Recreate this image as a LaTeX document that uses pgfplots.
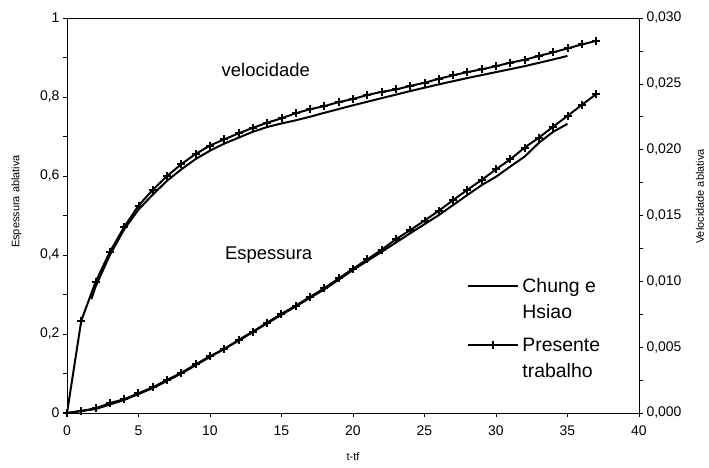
\documentclass[border=0pt]{standalone}
\usepackage{fontspec}
\setmainfont{Liberation Sans}
\usepackage{pgfplots}
\pgfplotsset{compat=1.18}

% espessura (eixo esquerdo)
\pgfplotstableread{
x y
0 0
1 0.005
2 0.012
3 0.025
4 0.035
5 0.050
6 0.065
7 0.084
8 0.102
9 0.123
10 0.144
11 0.162
12 0.185
13 0.206
14 0.229
15 0.251
16 0.272
17 0.294
18 0.316
19 0.341
20 0.365
21 0.389
22 0.413
23 0.440
24 0.463
25 0.487
26 0.512
27 0.539
28 0.565
29 0.590
30 0.617
31 0.642
32 0.672
33 0.697
34 0.725
35 0.752
36 0.780
37 0.807
}\espPres

\pgfplotstableread{
x y
0 0
2 0.010
4 0.033
6 0.063
8 0.100
10 0.142
12 0.183
14 0.227
16 0.270
18 0.313
20 0.362
22 0.408
24 0.455
26 0.501
28 0.552
29 0.577
30 0.598
31 0.624
32 0.649
33 0.684
34 0.712
35 0.732
}\espChung

% velocidade (eixo direito)
\pgfplotstableread{
x y
0 0
1 0.00702
2 0.00996
3 0.01224
4 0.01413
5 0.01575
6 0.01695
7 0.01800
8 0.01890
9 0.01968
10 0.02031
11 0.02079
12 0.02124
13 0.02166
14 0.02205
15 0.02238
16 0.02277
17 0.02307
18 0.02331
19 0.02361
20 0.02385
21 0.02415
22 0.02439
23 0.02457
24 0.02484
25 0.02508
26 0.02538
27 0.02565
28 0.02589
29 0.02610
30 0.02634
31 0.02661
32 0.02682
33 0.02712
34 0.02739
35 0.02769
36 0.02799
37 0.02826
}\velPres

\pgfplotstableread{
x y
1.7 0.00864
2 0.00960
3 0.01200
4 0.01395
5 0.01545
6 0.01659
7 0.01764
8 0.01851
9 0.01929
10 0.01992
11 0.02046
12 0.02091
13 0.02136
14 0.02172
15 0.02199
16 0.02223
17 0.02250
18 0.02280
20 0.02337
22 0.02391
24 0.02445
26 0.02496
28 0.02544
30 0.02589
32 0.02634
34 0.02685
35 0.02712
}\velChung

\pgfplotsset{
  base/.style={
    scale only axis, width=572bp, height=395bp,
    xmin=0, xmax=40,
    tick align=outside,
    major tick length=4bp, minor tick length=4bp,
    tick style={black, line width=0.6pt},
    axis line style={line width=0.8pt},
    ticklabel style={font=\fontsize{14}{16}\selectfont},
    label style={font=\fontsize{11}{13}\selectfont, inner sep=0pt},
    /pgf/number format/assume math mode=true,
    /pgf/number format/use comma,
  },
  serie/.style={black, line width=2bp},
  seriem/.style={black, line width=2bp, mark=+, mark size=4bp,
    mark options={line width=2bp}},
}

\begin{document}
\begin{tikzpicture}
% caixa fixa: o eixo fica em (0,0)--(572bp,395bp)
\useasboundingbox (-67bp,-55bp) rectangle (642bp,413bp);
\begin{axis}[base, name=ax,
    ymin=0, ymax=1,
    ytick={0,0.2,...,1}, minor y tick num=1,
    xtick={0,5,...,40},
    xtick pos=bottom, ytick pos=left,
    xticklabel style={yshift=-5bp},
    xlabel={t-tf}, ylabel={Espessura ablativa},
    xlabel style={yshift=-14bp},
    ylabel style={yshift=15bp, xshift=14bp},
    legend cell align=left,
    legend image code/.code={\draw[#1, line width=1.7bp, yshift=14bp, mark repeat=2, mark phase=2]
      plot coordinates {(0bp,0bp) (25bp,0bp) (50bp,0bp)};},
    legend style={draw=none, fill=none, at={(0.6985,0.345)}, anchor=north west,
      font=\fontsize{19.5}{26}\selectfont, cells={align=left},
      row sep=14bp, column sep=2bp, inner sep=0pt},
]
\addplot[serie] table {\espChung};
\addlegendentry{Chung e\\Hsiao}
\addplot[seriem] table {\espPres};
\addlegendentry{Presente\\trabalho}
\node[font=\fontsize{18.5}{22}\selectfont] at (axis cs:13.9,0.868) {velocidade};
\node[font=\fontsize{18.5}{22}\selectfont] at (axis cs:14.1,0.40) {Espessura};
\end{axis}
\begin{axis}[base,
    axis x line=none, axis y line*=right,
    ymin=0, ymax=0.03,
    ytick={0,0.005,...,0.03}, minor y tick num=1,
    scaled y ticks=false,
    yticklabel style={/pgf/number format/.cd, fixed, fixed zerofill, precision=3, use comma},
    ylabel={Velocidade ablativa},
    ylabel style={yshift=-11bp, xshift=19bp},
]
\addplot[serie] table {\velChung};
\addplot[seriem] table {\velPres};
\end{axis}
\end{tikzpicture}
\end{document}
